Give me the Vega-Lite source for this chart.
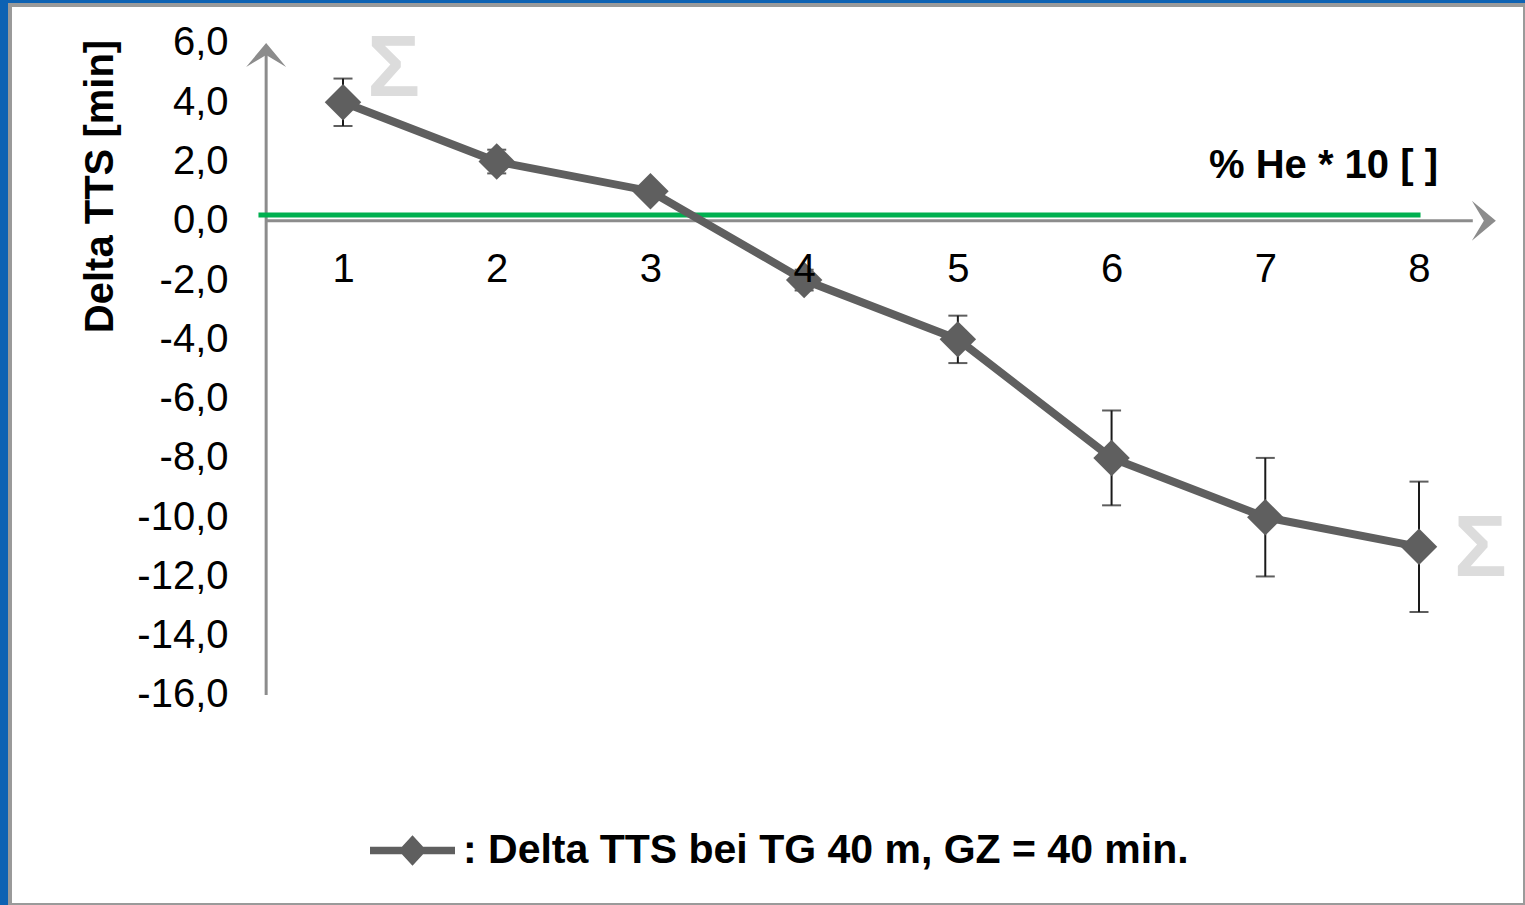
{
  "$schema": "https://vega.github.io/schema/vega-lite/v6.json",
  "width": 1515,
  "height": 900,
  "autosize": {"type": "none"},
  "padding": {"left": 10, "top": 5, "right": 0, "bottom": 0},
  "background": "#0d62b3",
  "config": {
    "font": "Liberation Sans",
    "locale": {"number": {"decimal": ",", "thousands": ".", "grouping": [3], "currency": ["", " €"], "minus": "-"}},
    "view": {"fill": "white", "stroke": "#9a9a9a", "strokeWidth": 4}
  },
  "datasets": {
    "points": [
      {"x": 1, "y": 4.0, "lo": 3.2, "hi": 4.8, "series": ": Delta TTS bei TG 40 m, GZ = 40 min."},
      {"x": 2, "y": 2.0, "lo": 1.6, "hi": 2.4, "series": ": Delta TTS bei TG 40 m, GZ = 40 min."},
      {"x": 3, "y": 1.0, "lo": 0.8, "hi": 1.2, "series": ": Delta TTS bei TG 40 m, GZ = 40 min."},
      {"x": 4, "y": -2.0, "lo": -2.35, "hi": -1.65, "series": ": Delta TTS bei TG 40 m, GZ = 40 min."},
      {"x": 5, "y": -4.0, "lo": -4.8, "hi": -3.2, "series": ": Delta TTS bei TG 40 m, GZ = 40 min."},
      {"x": 6, "y": -8.0, "lo": -9.6, "hi": -6.4, "series": ": Delta TTS bei TG 40 m, GZ = 40 min."},
      {"x": 7, "y": -10.0, "lo": -12.0, "hi": -8.0, "series": ": Delta TTS bei TG 40 m, GZ = 40 min."},
      {"x": 8, "y": -11.0, "lo": -13.2, "hi": -8.8, "series": ": Delta TTS bei TG 40 m, GZ = 40 min."}
    ],
    "axes": [
      {"x": 0.5, "x2": 0.5, "y": -16, "y2": 5.6},
      {"x": 0.5, "x2": 8.35, "y": 0, "y2": 0}
    ],
    "arrows": [
      {"x": 0.5, "y": 6.0, "dir": "up"},
      {"x": 8.5, "y": 0, "dir": "right"}
    ],
    "ref": [{"x": 0.45, "x2": 8.01, "y": 0.2}],
    "sigma": [
      {"x": 1.33, "y": 5.1, "t": "Σ"},
      {"x": 8.4, "y": -11.12, "t": "Σ"}
    ]
  },
  "layer": [
    {
      "data": {"name": "axes"},
      "mark": {"type": "rule", "color": "#8c8c8c", "strokeWidth": 3},
      "encoding": {
        "x": {
          "field": "x", "type": "quantitative",
          "scale": {"domain": [-1.1664, 8.6896], "nice": false, "zero": false},
          "axis": {
            "orient": "bottom", "offset": -684, "domain": false, "ticks": false, "tickSize": 0, "grid": false,
            "values": [1, 2, 3, 4, 5, 6, 7, 8], "format": "d",
            "labelFontSize": 40, "labelColor": "black", "labelPadding": 28, "labelFlush": false, "labelOverlap": false,
            "title": "% He * 10 [ ]", "titleFontSize": 40, "titleFontWeight": "bold", "titleColor": "black",
            "titleX": 1313, "titleY": -44, "titleAlign": "center", "titleBaseline": "alphabetic", "zindex": 1
          }
        },
        "x2": {"field": "x2"},
        "y": {
          "field": "y", "type": "quantitative",
          "scale": {"domain": [-23.086, 7.2822], "nice": false, "zero": false},
          "axis": {
            "orient": "left", "offset": -256, "domain": false, "ticks": false, "tickSize": 0, "grid": false,
            "values": [-16, -14, -12, -10, -8, -6, -4, -2, 0, 2, 4, 6], "format": ".1f",
            "labelFontSize": 40, "labelColor": "black", "labelPadding": 38, "labelFlush": false, "labelOverlap": false,
            "title": "Delta TTS [min]", "titleFontSize": 40, "titleFontWeight": "bold", "titleColor": "black",
            "titleAngle": -90, "titleX": -154, "titleY": 181, "titleAlign": "center", "titleBaseline": "alphabetic"
          }
        },
        "y2": {"field": "y2"}
      }
    },
    {
      "data": {"name": "ref"},
      "mark": {"type": "rule", "color": "#00b050", "strokeWidth": 5},
      "encoding": {
        "x": {"field": "x", "type": "quantitative"},
        "x2": {"field": "x2"},
        "y": {"field": "y", "type": "quantitative"}
      }
    },
    {
      "data": {"name": "arrows"},
      "mark": {"type": "point", "filled": true, "opacity": 1, "color": "#8c8c8c", "size": 1600, "strokeWidth": 0},
      "encoding": {
        "x": {"field": "x", "type": "quantitative"},
        "y": {"field": "y", "type": "quantitative"},
        "shape": {
          "field": "dir", "type": "nominal",
          "scale": {"domain": ["up", "right"], "range": ["M0,0 L1,1.2 L0,0.6 L-1,1.2 Z", "M0,0 L-1.2,-1 L-0.6,0 L-1.2,1 Z"]},
          "legend": null
        }
      }
    },
    {
      "data": {"name": "points"},
      "mark": {"type": "errorbar", "color": "#1a1a1a", "ticks": {"size": 19, "thickness": 2, "color": "#1a1a1a"}, "rule": {"strokeWidth": 2, "color": "#1a1a1a"}},
      "encoding": {
        "x": {"field": "x", "type": "quantitative", "title": "% He * 10 [ ]"},
        "y": {"field": "lo", "type": "quantitative", "title": "Delta TTS [min]"},
        "y2": {"field": "hi"}
      }
    },
    {
      "data": {"name": "points"},
      "mark": {"type": "line", "color": "#5f5f5f", "strokeWidth": 8},
      "encoding": {
        "x": {"field": "x", "type": "quantitative"},
        "y": {"field": "y", "type": "quantitative"}
      }
    },
    {
      "data": {"name": "points"},
      "mark": {"type": "point", "shape": "diamond", "filled": true, "opacity": 1, "size": 1330, "strokeWidth": 0},
      "encoding": {
        "x": {"field": "x", "type": "quantitative"},
        "y": {"field": "y", "type": "quantitative"},
        "color": {
          "field": "series", "type": "nominal",
          "scale": {"range": ["#5f5f5f"]},
          "legend": {
            "orient": "none", "legendX": 360, "legendY": 803, "title": null, "padding": 0,
            "symbolType": "M-1,-0.09 L1,-0.09 L1,0.09 L-1,0.09 Z M0,-0.36 L0.33,0 L0,0.36 L-0.33,0 Z",
            "symbolSize": 7225, "symbolStrokeWidth": 0, "symbolOpacity": 1,
            "labelFontSize": 41, "labelFontWeight": "bold", "labelColor": "black", "labelOffset": 8, "labelLimit": 2000
          }
        }
      }
    },
    {
      "data": {"name": "sigma"},
      "mark": {"type": "text", "fontSize": 88, "fontWeight": "bold", "color": "#dcdcdc", "align": "center", "baseline": "middle"},
      "encoding": {
        "x": {"field": "x", "type": "quantitative"},
        "y": {"field": "y", "type": "quantitative"},
        "text": {"field": "t"}
      }
    }
  ]
}
